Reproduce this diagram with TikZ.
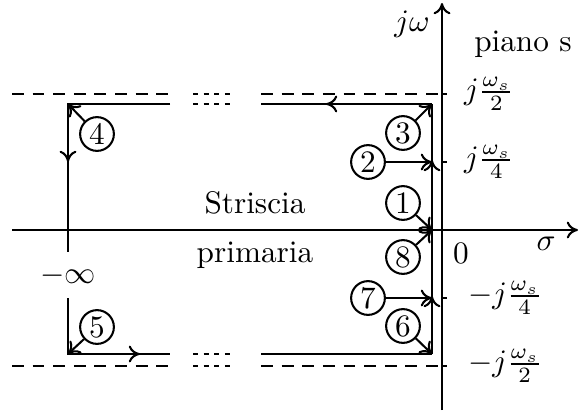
\documentclass[tikz,border=0pt]{standalone}
\usetikzlibrary{arrows.meta}
\begin{document}
\begin{tikzpicture}[x=0.32pt,y=-0.32pt,line width=0.66pt,>={To[length=3.6pt,width=5.4pt]},
  num/.style={draw,circle,inner sep=0.3pt,minimum size=10.8pt,font=\normalsize},
  dashline/.style={dash pattern=on 3.8pt off 2.8pt},
  dotline/.style={dash pattern=on 1.6pt off 1.8pt},
  lbl/.style={inner sep=0pt}]
\useasboundingbox (0,0) rectangle (581,412);
% axes
\coordinate (xs) at (12,230); \coordinate (xe) at (578,230);
\coordinate (ys) at (442,410); \coordinate (ye) at (442,3);
\draw[->] (xs) -- (xe);
\draw[->] (ys) -- (ye);
% ticks
\foreach \yy/\nm in {94/t1,162/t2,298/t3,366/t4}{
  \coordinate (\nm) at (442,\yy);
  \draw (\nm) -- ++(5,0);
}
% dashed strip limits
\draw[dashline] (12,94) -- (170,94);
\draw[dashline] (261,94) -- (t1);
\draw[dotline] (193,94) -- (232,94);
\draw[dotline] (193,104) -- (232,104);
\draw[dashline] (12,366) -- (170,366);
\draw[dashline] (261,366) -- (t4);
\draw[dotline] (193,366) -- (232,366);
\draw[dotline] (193,354) -- (232,354);
% contour corners
\coordinate (A) at (432,104);
\coordinate (B) at (432,354);
\coordinate (C) at (68,104);
\coordinate (D) at (68,354);
\coordinate (O) at (432,230);
\coordinate (A1) at (261,104);
\coordinate (C1) at (170,104);
\coordinate (B1) at (261,354);
\coordinate (D1) at (170,354);
\coordinate (L1) at (68,252);
\coordinate (L2) at (68,298);
% contour
\draw (B) -- (A);
\draw[->] (B) -- (432,296);
\draw[->] (O) -- (432,160);
\draw (A) -- (A1);
\draw[->] (A) -- (326,104);
\draw (C1) -- (C) -- (L1);
\draw[->] (C) -- (68,162);
\draw (L2) -- (D) -- (D1);
\draw[->] (D) -- (140,354);
\draw (B1) -- (B);
% numbered circles
\node[num] (n1) at (403,203) {1};
\node[num] (n2) at (368,162) {2};
\node[num] (n3) at (403,133) {3};
\node[num] (n4) at (97,134) {4};
\node[num] (n5) at (97,327) {5};
\node[num] (n6) at (403,326) {6};
\node[num] (n7) at (368,298) {7};
\node[num] (n8) at (403,257) {8};
\coordinate (p2) at (432,162);
\coordinate (p7) at (432,298);
\draw[->] (n1) -- (O);
\draw[->] (n8) -- (O);
\draw[->] (n3) -- (A);
\draw[->] (n6) -- (B);
\draw[->] (n2) -- (p2);
\draw[->] (n7) -- (p7);
\draw[->] (n4) -- (C);
\draw[->] (n5) -- (D);
% labels
\node (jw) at (412,24) {$j\omega$};
\node (ps) at (523,44) {piano s};
\node (s1) at (255,203) {Striscia};
\node (s2) at (255,255) {primaria};
\node (inf) at (68,276) {$-\infty$};
\node (z) at (461,253) {$0$};
\node (sg) at (546,244) {$\sigma$};
\node[anchor=west,inner sep=0pt] (l1) at (463,94) {$j\frac{\omega_s}{2}$};
\node[anchor=west,inner sep=0pt] (l2) at (463,162) {$j\frac{\omega_s}{4}$};
\node[anchor=west,inner sep=0pt] (l3) at (467,298) {$-j\frac{\omega_s}{4}$};
\node[anchor=west,inner sep=0pt] (l4) at (467,366) {$-j\frac{\omega_s}{2}$};
\end{tikzpicture}
\end{document}
